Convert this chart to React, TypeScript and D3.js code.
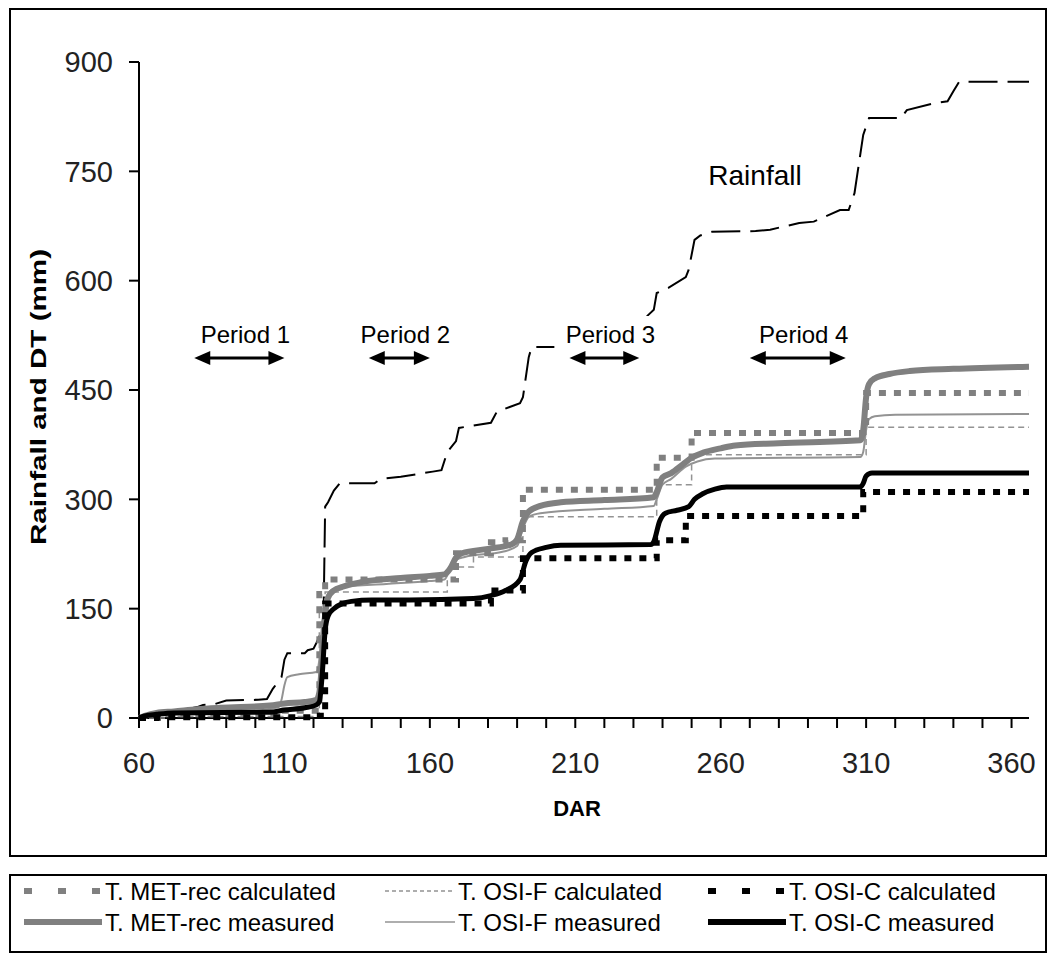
import React from "react";
import * as d3 from "d3";

type P = [number, number];

const xTicks = [60, 110, 160, 210, 260, 310, 360];
const yTicks = [0, 150, 300, 450, 600, 750, 900];

const rainfall: P[] = [
  [60, 0], [65, 2], [72, 8], [80, 15], [82, 18], [86, 19], [90, 24], [101, 25], [104, 26], [106, 40],
  [109, 56], [110, 80], [111, 89], [117, 89], [118, 93], [120, 95], [121, 103], [123, 121], [123.5, 150],
  [124, 290], [125, 296], [127, 312], [129, 322], [141, 322], [143, 328], [150, 331], [161, 338], [164, 340],
  [166, 365], [169, 380], [170, 398], [181, 405], [183, 420], [191, 432], [192, 440], [194, 495], [195, 509],
  [206, 509], [215, 515], [225, 530], [233, 545], [237, 560], [238, 583], [242, 590], [248, 605], [249, 615],
  [251, 656], [253, 662], [257, 667], [272, 668], [277, 670], [287, 679], [292, 681], [301, 697], [304, 697],
  [306, 720], [309, 800], [311, 823], [322, 823], [324, 834], [334, 844], [338, 846], [340, 860], [342, 873],
  [366, 873],
];

const metRecMeasured: P[] = [
  [60, 0], [62, 3], [66, 7], [72, 9], [80, 12], [88, 14], [105, 17], [110, 20], [117, 22], [121, 25],
  [122, 35], [123, 80], [124, 140], [125, 165], [127, 175], [130, 180], [136, 186], [150, 192], [160, 195],
  [165, 197], [167, 205], [169, 220], [171, 226], [180, 232], [188, 238], [190, 245], [192, 270], [194, 283],
  [198, 291], [205, 296], [220, 299], [237, 303], [238, 310], [240, 330], [243, 336], [247, 348], [250, 357],
  [254, 364], [260, 370], [265, 374], [280, 377], [308, 381], [309, 395], [310, 440], [311, 458], [313, 466],
  [318, 472], [325, 476], [340, 479], [366, 482],
];

const osiFMeasured: P[] = [
  [60, 0], [65, 3], [75, 6], [100, 10], [108, 15], [109, 25], [110, 45], [111, 56], [115, 60], [121, 63],
  [122, 80], [123, 130], [124, 160], [126, 175], [130, 180], [145, 184], [160, 188], [165, 190], [167, 205],
  [169, 217], [172, 221], [185, 228], [190, 236], [192, 260], [194, 276], [198, 281], [220, 287], [237, 291],
  [238, 300], [240, 320], [243, 328], [248, 345], [252, 352], [258, 356], [308, 358], [309, 365], [310, 395],
  [311, 410], [313, 414], [320, 416], [366, 417],
];

const osiCMeasured: P[] = [
  [60, 0], [62, 3], [66, 5], [72, 7], [105, 8], [110, 11], [117, 14], [121, 18], [122, 22], [123, 60],
  [124, 120], [125, 140], [127, 150], [130, 157], [133, 160], [140, 162], [153, 162], [175, 164], [181, 168],
  [186, 175], [191, 190], [193, 215], [195, 227], [200, 234], [205, 237], [236, 238], [237, 242], [239, 270],
  [241, 281], [245, 285], [249, 290], [251, 300], [254, 308], [258, 314], [262, 317], [308, 317], [309, 322],
  [310, 332], [312, 336], [366, 336],
];

// step series (value holds until next point)
const metRecCalculated: P[] = [
  [60, 0], [68, 5], [108, 10], [122, 170], [124, 190], [169, 226], [181, 241], [186, 244], [192, 313],
  [238, 357], [250, 391], [310, 446], [366, 446],
];
const osiFCalculated: P[] = [
  [60, 0], [70, 2], [122, 150], [124, 173], [166, 207], [175, 221], [192, 276], [238, 320], [250, 361],
  [310, 399], [366, 399],
];
const osiCCalculated: P[] = [
  [60, 0], [66, 1], [121, 3], [124, 157], [181, 175], [192, 219], [238, 244], [248, 277], [309, 310],
  [366, 310],
];

const periods = [
  { label: "Period 1", from: 79, to: 110 },
  { label: "Period 2", from: 139, to: 160 },
  { label: "Period 3", from: 208, to: 232 },
  { label: "Period 4", from: 270, to: 303 },
];

const FONT = "'Liberation Sans', Arial, sans-serif";
const GRAY = "#808080";
const LGRAY = "#939393";

export default function App() {
  const x = d3.scaleLinear().domain([60, 366]).range([139, 1029]);
  const y = d3.scaleLinear().domain([0, 900]).range([718, 62]);
  const lin = d3.line<P>().x((d) => x(d[0])).y((d) => y(d[1]));
  const mono = d3.line<P>().x((d) => x(d[0])).y((d) => y(d[1])).curve(d3.curveMonotoneX);
  const step = d3.line<P>().x((d) => x(d[0])).y((d) => y(d[1])).curve(d3.curveStepAfter);
  const minorTicks = d3.range(60, 361, 10);

  const legend = [
    { label: "T. MET-rec calculated", col: 0, row: 0, color: GRAY, w: 6, dash: "8,26" },
    { label: "T. OSI-F calculated", col: 1, row: 0, color: LGRAY, w: 1.5, dash: "4,3" },
    { label: "T. OSI-C calculated", col: 2, row: 0, color: "#000", w: 6, dash: "8,26" },
    { label: "T. MET-rec measured", col: 0, row: 1, color: GRAY, w: 6, dash: "" },
    { label: "T. OSI-F measured", col: 1, row: 1, color: LGRAY, w: 1.5, dash: "" },
    { label: "T. OSI-C measured", col: 2, row: 1, color: "#000", w: 6, dash: "" },
  ];
  const colX = [[24, 102], [385, 455], [708, 786]];
  const rowY = [891, 922];

  const arrowY = 358;

  return (
    <svg width={1047} height={953} style={{ position: "absolute", left: 0, top: 0, background: "#fff" }} fontFamily={FONT}>
      <rect x={10} y={9} width={1036} height={847} fill="#fff" stroke="#000" strokeWidth={2} />
      <rect x={10} y={875} width={1036} height={77} fill="#fff" stroke="#000" strokeWidth={2} />

      {/* axes */}
      <line x1={139} x2={139} y1={y(900)} y2={y(0)} stroke="#000" strokeWidth={2} />
      <line x1={139} x2={x(366)} y1={y(0)} y2={y(0)} stroke="#000" strokeWidth={2} />
      {yTicks.map((t) => (
        <g key={"y" + t}>
          <line x1={129} x2={139} y1={y(t)} y2={y(t)} stroke="#000" strokeWidth={2} />
          <text x={113} y={y(t)} dy="0.36em" textAnchor="end" fontSize={29} fill="#222">{t}</text>
        </g>
      ))}
      {minorTicks.map((t) => (
        <line key={"xt" + t} x1={x(t)} x2={x(t)} y1={y(0)} y2={y(0) + 10} stroke="#000" strokeWidth={2} />
      ))}
      {xTicks.map((t) => (
        <text key={"xl" + t} x={x(t)} y={763} dy="0.36em" textAnchor="middle" fontSize={29} fill="#222">{t}</text>
      ))}
      <text x={577} y={808} dy="0.36em" textAnchor="middle" fontSize={22} fontWeight="bold">DAR</text>
      <text transform="translate(38,397) rotate(-90)" textAnchor="middle" dy="0.36em" fontSize={22} fontWeight="bold"
        textLength={296} lengthAdjust="spacingAndGlyphs">Rainfall and DT (mm)</text>

      {/* series */}
      <path d={lin(rainfall) || ""} fill="none" stroke="#000" strokeWidth={2} strokeDasharray="29,10" />
      <path d={mono(osiFMeasured) || ""} fill="none" stroke={LGRAY} strokeWidth={2} />
      <path d={step(osiFCalculated) || ""} fill="none" stroke={LGRAY} strokeWidth={1.5} strokeDasharray="6,4" />
      <path d={mono(metRecMeasured) || ""} fill="none" stroke={GRAY} strokeWidth={6} />
      <path d={step(metRecCalculated) || ""} fill="none" stroke={GRAY} strokeWidth={6} strokeDasharray="7,8" />
      <path d={mono(osiCMeasured) || ""} fill="none" stroke="#000" strokeWidth={5} />
      <path d={step(osiCCalculated) || ""} fill="none" stroke="#000" strokeWidth={6} strokeDasharray="7,8" />

      {/* period annotations */}
      {periods.map((p) => {
        const x1 = x(p.from);
        const x2 = x(p.to);
        const cx = (x1 + x2) / 2;
        return (
          <g key={p.label}>
            <rect x={cx - 50} y={316} width={100} height={36} fill="#fff" />
            <text x={cx + 6} y={334} dy="0.36em" textAnchor="middle" fontSize={24}>{p.label}</text>
            <line x1={x1 + 10} x2={x2 - 10} y1={arrowY} y2={arrowY} stroke="#000" strokeWidth={3} />
            <path d={`M${x1},${arrowY} L${x1 + 16},${arrowY - 7} L${x1 + 16},${arrowY + 7} Z`} fill="#000" />
            <path d={`M${x2},${arrowY} L${x2 - 16},${arrowY - 7} L${x2 - 16},${arrowY + 7} Z`} fill="#000" />
          </g>
        );
      })}
      <text x={755} y={175} dy="0.36em" textAnchor="middle" fontSize={28}>Rainfall</text>

      {/* legend */}
      {legend.map((l) => {
        const [a, b] = colX[l.col];
        const ly = rowY[l.row];
        return (
          <g key={l.label}>
            <line x1={a} x2={b} y1={ly} y2={ly} stroke={l.color} strokeWidth={l.w} strokeDasharray={l.dash || undefined} />
            <text x={b + 3} y={ly} dy="0.36em" fontSize={24}>{l.label}</text>
          </g>
        );
      })}
    </svg>
  );
}
